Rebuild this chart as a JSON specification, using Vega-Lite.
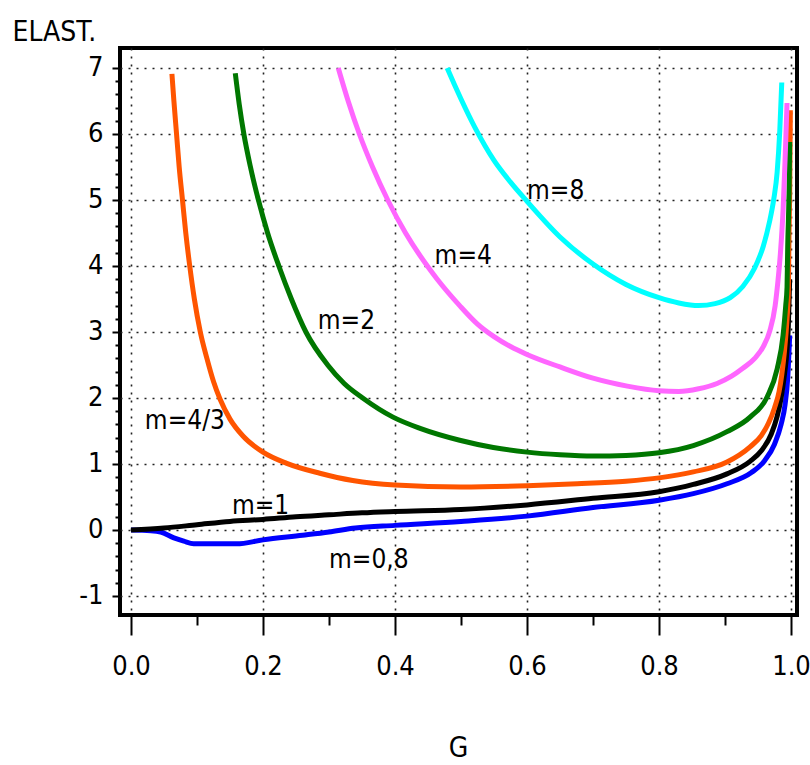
{
  "$schema": "https://vega.github.io/schema/vega-lite/v6.json",
  "width": 677,
  "height": 567,
  "autosize": "none",
  "padding": {"left": 120, "top": 48, "right": 13, "bottom": 150},
  "background": "white",
  "config": {
    "view": {"stroke": "black", "strokeWidth": 4},
    "font": "DejaVu Sans Condensed, Liberation Sans Narrow, sans-serif"
  },
  "datasets": {
    "curves": [
      {"m": "0.8", "g": 0, "e": 0}, {"m": "0.8", "g": 0.03, "e": -0.01}, {"m": "0.8", "g": 0.045, "e": -0.03}, {"m": "0.8", "g": 0.065, "e": -0.12}, {"m": "0.8", "g": 0.08, "e": -0.17}, {"m": "0.8", "g": 0.095, "e": -0.21}, {"m": "0.8", "g": 0.16, "e": -0.21}, {"m": "0.8", "g": 0.2, "e": -0.15}, {"m": "0.8", "g": 0.26, "e": -0.08}, {"m": "0.8", "g": 0.3, "e": -0.03}, {"m": "0.8", "g": 0.34, "e": 0.03}, {"m": "0.8", "g": 0.4, "e": 0.07}, {"m": "0.8", "g": 0.5, "e": 0.13}, {"m": "0.8", "g": 0.6, "e": 0.21}, {"m": "0.8", "g": 0.7, "e": 0.34}, {"m": "0.8", "g": 0.8, "e": 0.45}, {"m": "0.8", "g": 0.852, "e": 0.55}, {"m": "0.8", "g": 0.903, "e": 0.7}, {"m": "0.8", "g": 0.94, "e": 0.87}, {"m": "0.8", "g": 0.96, "e": 1.05}, {"m": "0.8", "g": 0.975, "e": 1.3}, {"m": "0.8", "g": 0.985, "e": 1.6}, {"m": "0.8", "g": 0.991, "e": 1.9}, {"m": "0.8", "g": 0.995, "e": 2.3}, {"m": "0.8", "g": 0.998, "e": 2.95},
      {"m": "1", "g": 0, "e": 0}, {"m": "1", "g": 0.05, "e": 0.03}, {"m": "1", "g": 0.1, "e": 0.08}, {"m": "1", "g": 0.15, "e": 0.13}, {"m": "1", "g": 0.2, "e": 0.16}, {"m": "1", "g": 0.25, "e": 0.2}, {"m": "1", "g": 0.3, "e": 0.23}, {"m": "1", "g": 0.35, "e": 0.26}, {"m": "1", "g": 0.4, "e": 0.28}, {"m": "1", "g": 0.5, "e": 0.31}, {"m": "1", "g": 0.6, "e": 0.38}, {"m": "1", "g": 0.7, "e": 0.48}, {"m": "1", "g": 0.8, "e": 0.58}, {"m": "1", "g": 0.852, "e": 0.69}, {"m": "1", "g": 0.903, "e": 0.85}, {"m": "1", "g": 0.938, "e": 1.04}, {"m": "1", "g": 0.955, "e": 1.2}, {"m": "1", "g": 0.97, "e": 1.45}, {"m": "1", "g": 0.979, "e": 1.72}, {"m": "1", "g": 0.985, "e": 2.0}, {"m": "1", "g": 0.99, "e": 2.35}, {"m": "1", "g": 0.994, "e": 2.73}, {"m": "1", "g": 0.996, "e": 3.1}, {"m": "1", "g": 0.998, "e": 3.8},
      {"m": "4/3", "g": 0.062, "e": 6.91}, {"m": "4/3", "g": 0.065, "e": 6.5}, {"m": "4/3", "g": 0.069, "e": 6.0}, {"m": "4/3", "g": 0.073, "e": 5.5}, {"m": "4/3", "g": 0.078, "e": 5.0}, {"m": "4/3", "g": 0.083, "e": 4.5}, {"m": "4/3", "g": 0.089, "e": 4.0}, {"m": "4/3", "g": 0.096, "e": 3.5}, {"m": "4/3", "g": 0.105, "e": 3.0}, {"m": "4/3", "g": 0.115, "e": 2.6}, {"m": "4/3", "g": 0.125, "e": 2.25}, {"m": "4/3", "g": 0.135, "e": 1.98}, {"m": "4/3", "g": 0.15, "e": 1.68}, {"m": "4/3", "g": 0.17, "e": 1.42}, {"m": "4/3", "g": 0.2, "e": 1.18}, {"m": "4/3", "g": 0.236, "e": 1.01}, {"m": "4/3", "g": 0.286, "e": 0.86}, {"m": "4/3", "g": 0.336, "e": 0.75}, {"m": "4/3", "g": 0.4, "e": 0.68}, {"m": "4/3", "g": 0.5, "e": 0.65}, {"m": "4/3", "g": 0.6, "e": 0.67}, {"m": "4/3", "g": 0.676, "e": 0.7}, {"m": "4/3", "g": 0.75, "e": 0.74}, {"m": "4/3", "g": 0.8, "e": 0.79}, {"m": "4/3", "g": 0.852, "e": 0.88}, {"m": "4/3", "g": 0.903, "e": 1.03}, {"m": "4/3", "g": 0.938, "e": 1.26}, {"m": "4/3", "g": 0.955, "e": 1.43}, {"m": "4/3", "g": 0.966, "e": 1.62}, {"m": "4/3", "g": 0.975, "e": 1.85}, {"m": "4/3", "g": 0.982, "e": 2.1}, {"m": "4/3", "g": 0.986, "e": 2.35}, {"m": "4/3", "g": 0.99, "e": 2.7}, {"m": "4/3", "g": 0.994, "e": 3.2}, {"m": "4/3", "g": 0.996, "e": 3.6}, {"m": "4/3", "g": 0.997, "e": 4.5}, {"m": "4/3", "g": 0.998, "e": 5.1}, {"m": "4/3", "g": 0.999, "e": 6.36},
      {"m": "2", "g": 0.158, "e": 6.92}, {"m": "2", "g": 0.164, "e": 6.45}, {"m": "2", "g": 0.171, "e": 6.0}, {"m": "2", "g": 0.181, "e": 5.5}, {"m": "2", "g": 0.193, "e": 5.0}, {"m": "2", "g": 0.207, "e": 4.5}, {"m": "2", "g": 0.224, "e": 4.0}, {"m": "2", "g": 0.243, "e": 3.5}, {"m": "2", "g": 0.265, "e": 3.0}, {"m": "2", "g": 0.298, "e": 2.5}, {"m": "2", "g": 0.323, "e": 2.22}, {"m": "2", "g": 0.351, "e": 2.0}, {"m": "2", "g": 0.397, "e": 1.71}, {"m": "2", "g": 0.438, "e": 1.54}, {"m": "2", "g": 0.498, "e": 1.36}, {"m": "2", "g": 0.549, "e": 1.25}, {"m": "2", "g": 0.6, "e": 1.18}, {"m": "2", "g": 0.65, "e": 1.14}, {"m": "2", "g": 0.7, "e": 1.12}, {"m": "2", "g": 0.75, "e": 1.13}, {"m": "2", "g": 0.8, "e": 1.17}, {"m": "2", "g": 0.852, "e": 1.28}, {"m": "2", "g": 0.903, "e": 1.49}, {"m": "2", "g": 0.938, "e": 1.71}, {"m": "2", "g": 0.964, "e": 2.02}, {"m": "2", "g": 0.979, "e": 2.44}, {"m": "2", "g": 0.988, "e": 2.95}, {"m": "2", "g": 0.992, "e": 3.4}, {"m": "2", "g": 0.994, "e": 3.68}, {"m": "2", "g": 0.995, "e": 4.29}, {"m": "2", "g": 0.997, "e": 5.1}, {"m": "2", "g": 0.998, "e": 5.88},
      {"m": "4", "g": 0.314, "e": 7.0}, {"m": "4", "g": 0.329, "e": 6.5}, {"m": "4", "g": 0.346, "e": 6.0}, {"m": "4", "g": 0.366, "e": 5.5}, {"m": "4", "g": 0.389, "e": 5.0}, {"m": "4", "g": 0.416, "e": 4.5}, {"m": "4", "g": 0.449, "e": 4.0}, {"m": "4", "g": 0.464, "e": 3.8}, {"m": "4", "g": 0.498, "e": 3.4}, {"m": "4", "g": 0.525, "e": 3.12}, {"m": "4", "g": 0.55, "e": 2.93}, {"m": "4", "g": 0.575, "e": 2.78}, {"m": "4", "g": 0.6, "e": 2.66}, {"m": "4", "g": 0.65, "e": 2.47}, {"m": "4", "g": 0.7, "e": 2.3}, {"m": "4", "g": 0.752, "e": 2.18}, {"m": "4", "g": 0.8, "e": 2.11}, {"m": "4", "g": 0.83, "e": 2.1}, {"m": "4", "g": 0.86, "e": 2.14}, {"m": "4", "g": 0.888, "e": 2.22}, {"m": "4", "g": 0.91, "e": 2.33}, {"m": "4", "g": 0.927, "e": 2.45}, {"m": "4", "g": 0.945, "e": 2.6}, {"m": "4", "g": 0.958, "e": 2.78}, {"m": "4", "g": 0.968, "e": 3.02}, {"m": "4", "g": 0.976, "e": 3.4}, {"m": "4", "g": 0.98, "e": 3.75}, {"m": "4", "g": 0.984, "e": 4.2}, {"m": "4", "g": 0.988, "e": 4.85}, {"m": "4", "g": 0.991, "e": 5.6}, {"m": "4", "g": 0.994, "e": 6.47},
      {"m": "8", "g": 0.479, "e": 7.0}, {"m": "8", "g": 0.49, "e": 6.75}, {"m": "8", "g": 0.5, "e": 6.53}, {"m": "8", "g": 0.521, "e": 6.1}, {"m": "8", "g": 0.55, "e": 5.6}, {"m": "8", "g": 0.575, "e": 5.27}, {"m": "8", "g": 0.6, "e": 4.98}, {"m": "8", "g": 0.65, "e": 4.44}, {"m": "8", "g": 0.7, "e": 4.03}, {"m": "8", "g": 0.75, "e": 3.72}, {"m": "8", "g": 0.8, "e": 3.52}, {"m": "8", "g": 0.83, "e": 3.44}, {"m": "8", "g": 0.86, "e": 3.4}, {"m": "8", "g": 0.885, "e": 3.43}, {"m": "8", "g": 0.908, "e": 3.52}, {"m": "8", "g": 0.927, "e": 3.69}, {"m": "8", "g": 0.945, "e": 3.97}, {"m": "8", "g": 0.958, "e": 4.3}, {"m": "8", "g": 0.967, "e": 4.65}, {"m": "8", "g": 0.974, "e": 5.02}, {"m": "8", "g": 0.979, "e": 5.42}, {"m": "8", "g": 0.983, "e": 6.05}, {"m": "8", "g": 0.986, "e": 6.78}
    ],
    "labels": [
      {"t": "m=8", "g": 0.6, "e": 5.14},
      {"t": "m=4", "g": 0.46, "e": 4.15},
      {"t": "m=2", "g": 0.283, "e": 3.17},
      {"t": "m=4/3", "g": 0.021, "e": 1.65},
      {"t": "m=1", "g": 0.153, "e": 0.36},
      {"t": "m=0,8", "g": 0.3, "e": -0.45}
    ],
    "minor": [{"g": 0.5, "e": 3}]
  },
  "layer": [
    {
      "data": {"name": "curves"},
      "mark": {"type": "line", "strokeWidth": 5, "interpolate": "monotone"},
      "encoding": {
        "x": {
          "field": "g", "type": "quantitative",
          "scale": {"domain": [-0.01667, 1.00909], "nice": false, "zero": false},
          "axis": {
            "values": [0, 0.2, 0.4, 0.6, 0.8, 1.0], "format": ".1f",
            "grid": true, "gridColor": "#222222", "gridDash": [2, 6], "gridWidth": 1.6,
            "domain": false, "ticks": true, "tickSize": 20, "tickWidth": 2, "tickColor": "black",
            "labelPadding": 18, "labelFontSize": 27, "labelColor": "black", "labelBaseline": "top", "labelOverlap": false, "labelBound": false,
            "title": "G", "titleFontSize": 28, "titleFontWeight": "normal", "titleColor": "black",
            "titleX": 338, "titleY": 133, "titleBaseline": "middle", "titleAlign": "center"
          }
        },
        "y": {
          "field": "e", "type": "quantitative",
          "scale": {"domain": [-1.288, 7.303], "nice": false, "zero": false},
          "axis": {
            "values": [-1, 0, 1, 2, 3, 4, 5, 6, 7],
            "labelExpr": "replace(datum.label, '\u2212', '-')",
            "grid": true, "gridColor": "#222222", "gridDash": [2, 6], "gridWidth": 1.6,
            "domain": false, "ticks": true, "tickSize": 8, "tickWidth": 2, "tickColor": "black",
            "labelPadding": 9, "labelFontSize": 27, "labelColor": "black", "labelBaseline": "middle",
            "title": "ELAST.", "titleFontSize": 28, "titleFontWeight": "normal", "titleColor": "black",
            "titleAngle": 0, "titleX": -108, "titleY": -16, "titleAlign": "left", "titleBaseline": "middle"
          }
        },
        "color": {
          "field": "m", "type": "nominal",
          "scale": {"domain": ["0.8", "1", "4/3", "2", "4", "8"], "range": ["#0000ff", "#000000", "#ff5500", "#007700", "#ff66ff", "#00ffff"]},
          "legend": null
        }
      }
    },
    {
      "data": {"name": "labels"},
      "mark": {"type": "text", "align": "left", "baseline": "middle", "fontSize": 26, "color": "black"},
      "encoding": {
        "x": {"field": "g", "type": "quantitative", "scale": {"domain": [-0.01667, 1.00909], "nice": false, "zero": false}, "axis": null},
        "y": {"field": "e", "type": "quantitative", "scale": {"domain": [-1.288, 7.303], "nice": false, "zero": false}, "axis": null},
        "text": {"field": "t"}
      }
    },
    {
      "data": {"name": "minor"},
      "mark": {"type": "point", "opacity": 0},
      "encoding": {
        "x": {
          "field": "g", "type": "quantitative",
          "scale": {"domain": [-0.01667, 1.00909], "nice": false, "zero": false},
          "axis": {"orient": "bottom", "values": [0.1, 0.3, 0.5, 0.7, 0.9], "labels": false, "grid": false, "domain": false, "tickSize": 10, "tickWidth": 2, "tickColor": "black", "title": null}
        },
        "y": {
          "field": "e", "type": "quantitative",
          "scale": {"domain": [-1.288, 7.303], "nice": false, "zero": false},
          "axis": {"orient": "left", "values": [-0.8, -0.6, -0.4, -0.2, 0.2, 0.4, 0.6, 0.8, 1.2, 1.4, 1.6, 1.8, 2.2, 2.4, 2.6, 2.8, 3.2, 3.4, 3.6, 3.8, 4.2, 4.4, 4.6, 4.8, 5.2, 5.4, 5.6, 5.8, 6.2, 6.4, 6.6, 6.8], "labels": false, "grid": false, "domain": false, "tickSize": 5, "tickWidth": 2, "tickColor": "black", "title": null}
        }
      }
    }
  ],
  "resolve": {"axis": {"x": "independent", "y": "independent"}}
}
